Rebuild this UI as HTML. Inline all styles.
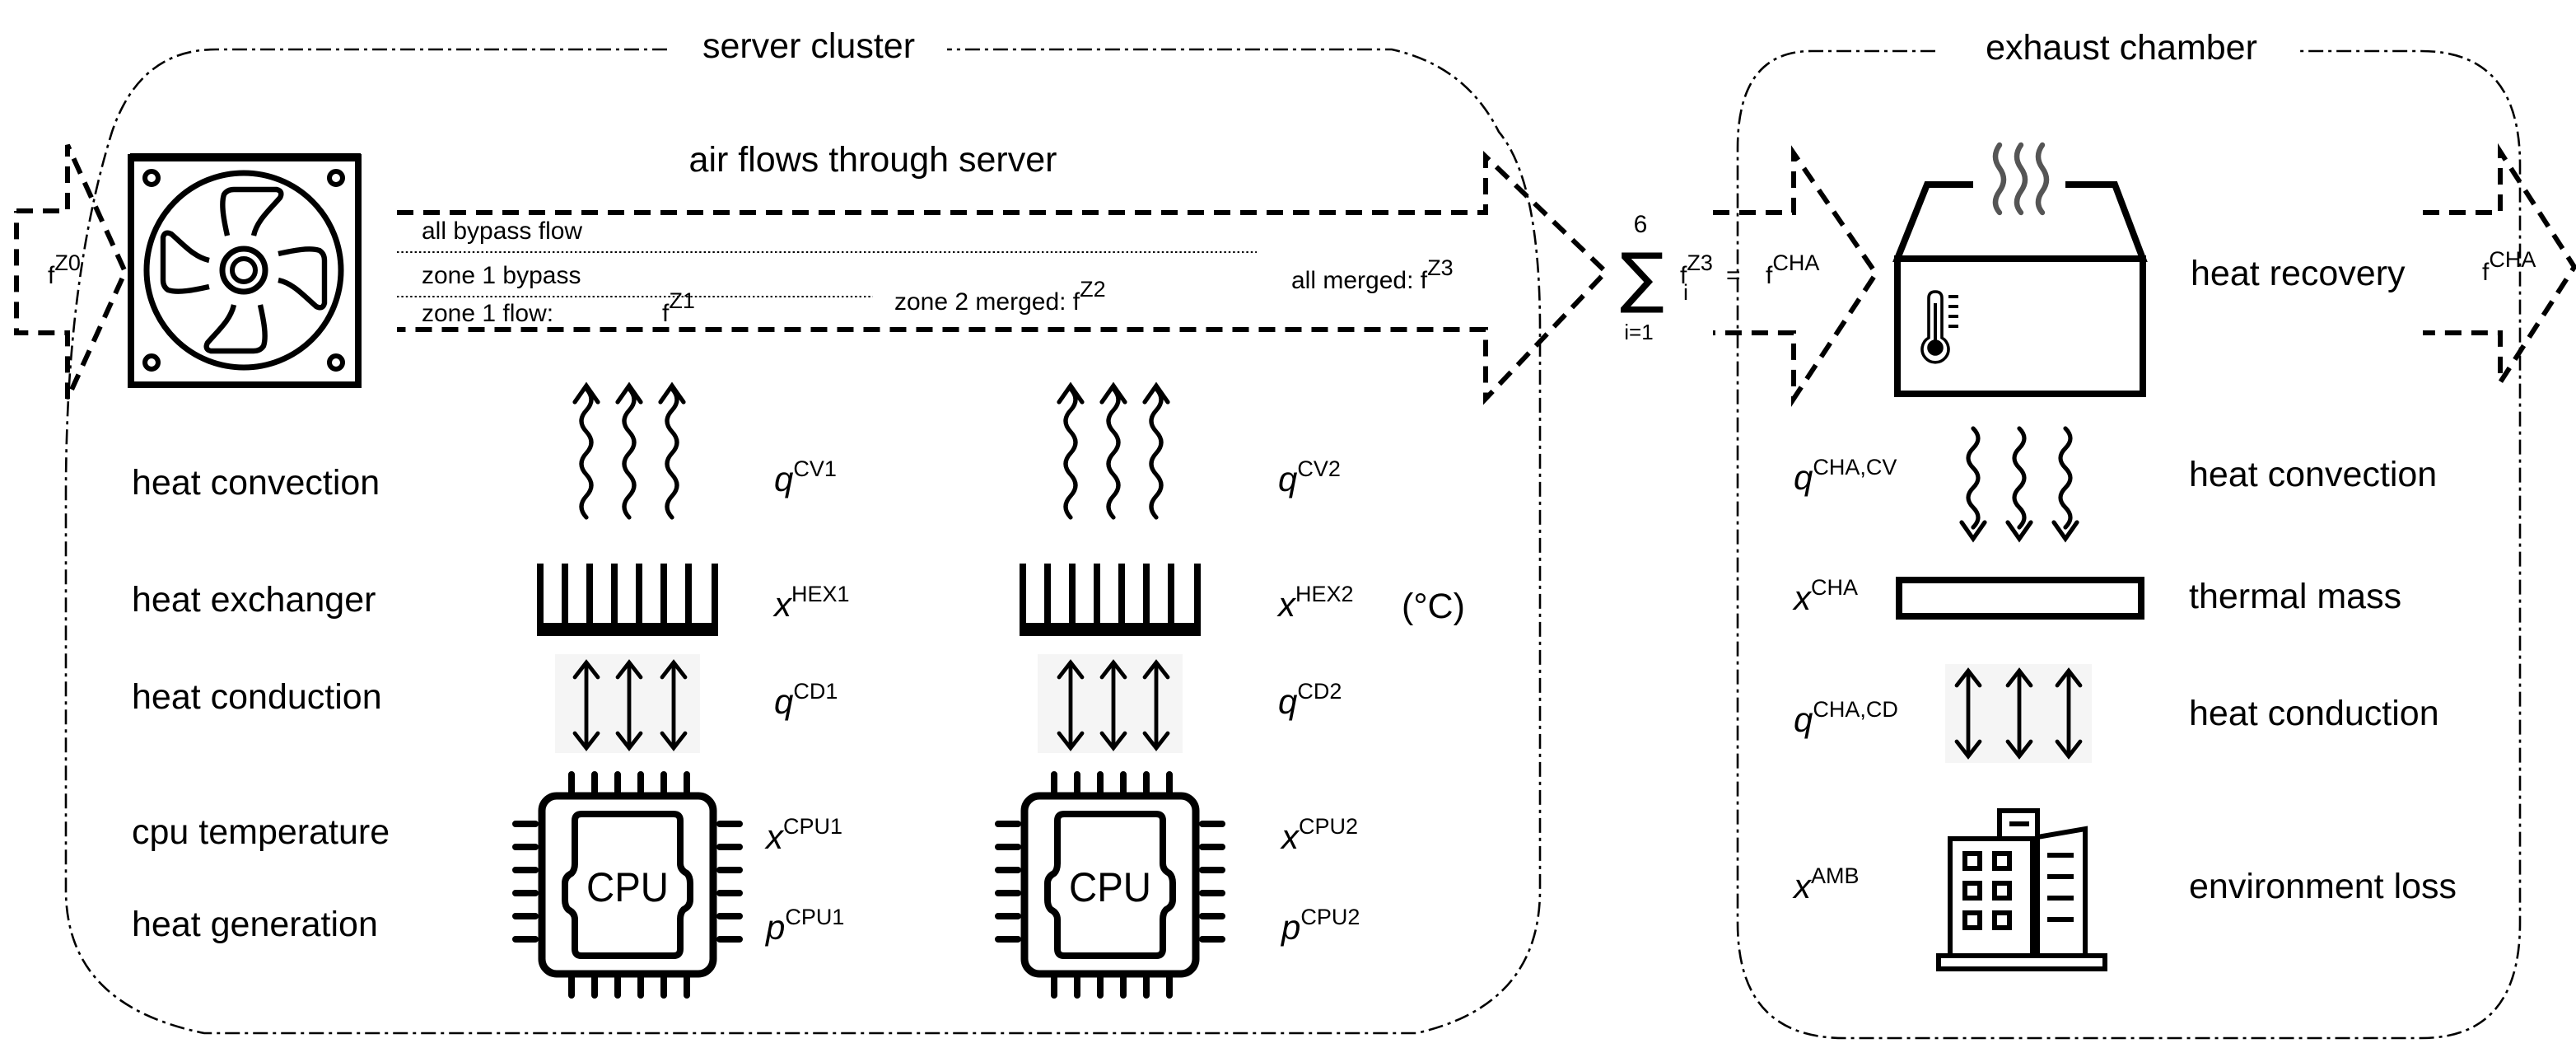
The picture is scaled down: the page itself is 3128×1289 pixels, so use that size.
<!DOCTYPE html>
<html><head><meta charset="utf-8"><style>
html,body{margin:0;padding:0;background:#fff;}
svg{display:block}
text{font-family:"Liberation Sans",Arial,sans-serif;fill:#000}
.L{font-size:21.5px}
.S{font-size:15px}
.v{font-size:21px;font-style:italic}
.sup{font-size:13.5px;font-style:normal}
.dd{fill:none;stroke:#000;stroke-width:1.3;stroke-dasharray:9 3 2 3}
.da{fill:none;stroke:#000;stroke-width:3;stroke-dasharray:10 6}
</style></head><body>
<svg width="3128" height="1289" viewBox="0 0 1564 644.5" xmlns="http://www.w3.org/2000/svg">
<defs>
<g id="wup" fill="none" stroke="#000" stroke-width="2.6" stroke-linecap="round">
<path d="M0,3 q6,6.5 0,13 t0,13 t0,13 t0,13 t0,13 t0,13"/>
<path d="M-7,11 L0,1 L7,11"/>
</g>
<g id="wdn" fill="none" stroke="#000" stroke-width="2.6" stroke-linecap="round">
<path d="M0,0 q6,6 0,12 t0,12 t0,12 t0,12 t0,12"/>
<path d="M-7,57 L0,67 L7,57"/>
</g>
<g id="dbl" fill="none" stroke="#000" stroke-width="2.4" stroke-linecap="round">
<path d="M0,2 V54 M-7,11 L0,2 L7,11 M-7,45 L0,54 L7,45"/>
</g>
<g id="sink" fill="#000">
<rect x="0" y="36" width="110" height="8"/>
<rect x="0" y="0" width="4" height="40"/><rect x="15" y="0" width="4" height="40"/><rect x="30" y="0" width="4" height="40"/><rect x="45" y="0" width="4" height="40"/><rect x="60" y="0" width="4" height="40"/><rect x="75" y="0" width="4" height="40"/><rect x="90" y="0" width="4" height="40"/><rect x="106" y="0" width="4" height="40"/>
</g>
<g id="cpu">
<g stroke="#000" stroke-width="4" stroke-linecap="round">
<path d="M34,0 V12 M48,0 V12 M62,0 V12 M76,0 V12 M90,0 V12 M104,0 V12"/>
<path d="M34,122 V134 M48,122 V134 M62,122 V134 M76,122 V134 M90,122 V134 M104,122 V134"/>
<path d="M0,30 H12 M0,44 H12 M0,58 H12 M0,72 H12 M0,86 H12 M0,100 H12"/>
<path d="M124,30 H136 M124,44 H136 M124,58 H136 M124,72 H136 M124,86 H136 M124,100 H136"/>
</g>
<rect x="16" y="13" width="104" height="108" rx="9" fill="none" stroke="#000" stroke-width="4.5"/>
<path d="M40,24 H96 Q100,24 100,28 V54 Q100,58 104,60 Q106,62 106,66 V76 Q106,80 102,82 Q100,84 100,88 V106 Q100,110 96,110 H40 Q36,110 36,106 V88 Q36,84 32,82 Q30,80 30,76 V66 Q30,62 34,60 Q36,58 36,54 V28 Q36,24 40,24 Z" fill="none" stroke="#000" stroke-width="4"/>
<text x="68" y="77" text-anchor="middle" style="font-size:25px" textLength="50" lengthAdjust="spacingAndGlyphs">CPU</text>
</g>
<path id="blade" d="M-10,-21 C-12,-30 -14,-40 -12,-46 Q-10,-49 -6,-49 L20,-49 Q24,-48 22,-44 C15,-36 8,-30 6,-21" fill="none" stroke="#000" stroke-width="3.2" stroke-linejoin="round"/>
</defs>

<!-- server cluster frame -->
<path class="dd" d="M405,30 H131 Q85,30 68,80 Q40,170 40,300 V540 Q40,610 124,627 H860 Q935,610 935,540 V200 Q935,110 910,80 Q890,40 845,30 H575"/>
<text x="491" y="35" class="L" text-anchor="middle">server cluster</text>

<!-- exhaust chamber frame -->
<path class="dd" d="M1175,31 H1100 Q1055,31 1055,90 V560 Q1055,630 1120,630 H1470 Q1530,630 1530,560 V100 Q1530,31 1470,31 H1395"/>
<text x="1288" y="36" class="L" text-anchor="middle">exhaust chamber</text>

<!-- inlet arrow -->
<path class="da" d="M10,128 H41 V88 L76,165 L41,242 V202 H10 V128"/>
<text x="29" y="172" class="S">f<tspan class="sup" dy="-8">Z0</tspan></text>

<!-- fan -->
<g>
<rect x="79.5" y="95.5" width="138" height="138" fill="none" stroke="#000" stroke-width="4"/>
<rect x="79" y="93" width="140" height="5" fill="#000"/>
<circle cx="148" cy="164" r="59" fill="none" stroke="#000" stroke-width="3.5"/>
<circle cx="148" cy="164" r="13" fill="none" stroke="#000" stroke-width="3.5"/>
<circle cx="148" cy="164" r="7" fill="none" stroke="#000" stroke-width="3"/>
<circle cx="92" cy="108" r="4" fill="none" stroke="#000" stroke-width="3"/>
<circle cx="204" cy="108" r="4" fill="none" stroke="#000" stroke-width="3"/>
<circle cx="92" cy="220" r="4" fill="none" stroke="#000" stroke-width="3"/>
<circle cx="204" cy="220" r="4" fill="none" stroke="#000" stroke-width="3"/>
<use href="#blade" transform="translate(148,164)"/>
<use href="#blade" transform="translate(148,164) rotate(90)"/>
<use href="#blade" transform="translate(148,164) rotate(180)"/>
<use href="#blade" transform="translate(148,164) rotate(270)"/>
</g>

<!-- big server arrow -->
<path class="da" d="M241,129 H902 V95 L975,165 L902,242 V200 H241"/>
<text x="530" y="104" class="L" text-anchor="middle">air flows through server</text>
<text x="256" y="145" class="S">all bypass flow</text>
<line x1="241" y1="153" x2="763" y2="153" stroke="#000" stroke-width="1" stroke-dasharray="1.2 1.5"/>
<text x="256" y="172" class="S">zone 1 bypass</text>
<line x1="241" y1="180" x2="530" y2="180" stroke="#000" stroke-width="1" stroke-dasharray="1.2 1.5"/>
<text x="256" y="195" class="S">zone 1 flow:</text>
<text x="402" y="195" class="S">f<tspan class="sup" dy="-8">Z1</tspan></text>
<text x="543" y="188" class="S">zone 2 merged:  f<tspan class="sup" dy="-8">Z2</tspan></text>
<text x="784" y="175" class="S">all merged:  f<tspan class="sup" dy="-8">Z3</tspan></text>

<!-- sum -->
<text x="996" y="141" class="S" text-anchor="middle">6</text>
<text x="997" y="182" text-anchor="middle" style="font-family:'DejaVu Sans',sans-serif;font-size:40px">∑</text>
<text x="995" y="206" class="S" text-anchor="middle" style="font-size:13px">i=1</text>
<text x="1020" y="172" class="S">f<tspan class="sup" dy="-8">Z3</tspan></text>
<text x="1022" y="182" class="sup">i</text>
<text x="1048" y="172" class="S">=</text>
<text x="1072" y="172" class="S">f<tspan class="sup" dy="-8">CHA</tspan></text>

<!-- exhaust input arrow -->
<path class="da" d="M1040,129 H1089 V93 L1139,166 L1089,242 V202 H1040"/>

<!-- hot box -->
<g fill="none" stroke="#000" stroke-width="4">
<path d="M1198,112 H1170 L1152,157 H1301 L1284,112 H1254"/>
<rect x="1152" y="157" width="149" height="82"/>
</g>
<g fill="none" stroke="#555" stroke-width="3.2" stroke-linecap="round">
<path d="M1214,88 q-5,7 0,14 t0,14 t0,13"/>
<path d="M1227,88 q-5,7 0,14 t0,14 t0,13"/>
<path d="M1240,88 q-5,7 0,14 t0,14 t0,13"/>
</g>
<g fill="none" stroke="#000" stroke-width="1.8">
<path d="M1171,205 V181 q0,-4 4,-4 q4,0 4,4 V205 a8,8 0 1 1 -8,0 Z"/>
<circle cx="1175" cy="211" r="4" fill="#000"/>
<path d="M1175,184 V208" stroke-width="2"/>
<path d="M1183,180 H1189 M1183,186 H1189 M1183,192 H1189 M1183,198 H1189" stroke-width="2"/>
</g>
<text x="1330" y="173" class="L">heat recovery</text>

<!-- output arrow -->
<path class="da" d="M1471,129 H1518 V92 L1563,162 L1518,232 V202 H1471"/>
<text x="1507" y="170" class="S">f<tspan class="sup" dy="-8">CHA</tspan></text>

<!-- right column -->
<use href="#wdn" x="1198" y="260"/>
<use href="#wdn" x="1226" y="260"/>
<use href="#wdn" x="1254" y="260"/>
<text x="1089" y="297" class="v">q<tspan class="sup" dy="-9">CHA,CV</tspan></text>
<text x="1329" y="295" class="L">heat convection</text>
<rect x="1153" y="352" width="147" height="22" fill="none" stroke="#000" stroke-width="4"/>
<text x="1089" y="370" class="v">x<tspan class="sup" dy="-9">CHA</tspan></text>
<text x="1329" y="369" class="L">thermal mass</text>
<rect x="1181" y="403" width="89" height="60" fill="#f5f5f5"/>
<use href="#dbl" x="1195" y="405"/>
<use href="#dbl" x="1226" y="405"/>
<use href="#dbl" x="1256" y="405"/>
<text x="1089" y="444" class="v">q<tspan class="sup" dy="-9">CHA,CD</tspan></text>
<text x="1329" y="440" class="L">heat conduction</text>
<!-- building -->
<g fill="none" stroke="#000" stroke-width="3">
<rect x="1177" y="580" width="101" height="8"/>
<rect x="1184" y="509" width="50" height="71"/>
<rect x="1214" y="492" width="23" height="17"/>
<path d="M1220,500 H1232"/>
<path d="M1237,580 V508 L1266,503 V580"/>
<path d="M1243,519 H1259 M1243,532 H1259 M1243,545 H1259 M1243,558 H1259"/>
<rect x="1193" y="518" width="9" height="9"/><rect x="1211" y="518" width="9" height="9"/>
<rect x="1193" y="536" width="9" height="9"/><rect x="1211" y="536" width="9" height="9"/>
<rect x="1193" y="554" width="9" height="9"/><rect x="1211" y="554" width="9" height="9"/>
</g>
<text x="1089" y="545" class="v">x<tspan class="sup" dy="-9">AMB</tspan></text>
<text x="1329" y="545" class="L">environment loss</text>

<!-- left labels -->
<text x="80" y="300" class="L">heat convection</text>
<text x="80" y="371" class="L">heat exchanger</text>
<text x="80" y="430" class="L">heat conduction</text>
<text x="80" y="512" class="L">cpu temperature</text>
<text x="80" y="568" class="L">heat generation</text>

<!-- column 1 -->
<use href="#wup" x="356" y="233"/>
<use href="#wup" x="382" y="233"/>
<use href="#wup" x="408" y="233"/>
<text x="470" y="298" class="v">q<tspan class="sup" dy="-9">CV1</tspan></text>
<use href="#sink" x="326" y="342"/>
<text x="470" y="374" class="v">x<tspan class="sup" dy="-9">HEX1</tspan></text>
<rect x="337" y="397" width="88" height="60" fill="#f5f5f5"/>
<use href="#dbl" x="356" y="400"/>
<use href="#dbl" x="382" y="400"/>
<use href="#dbl" x="409" y="400"/>
<text x="470" y="433" class="v">q<tspan class="sup" dy="-9">CD1</tspan></text>
<use href="#cpu" x="313" y="470"/>
<text x="465" y="515" class="v">x<tspan class="sup" dy="-9">CPU1</tspan></text>
<text x="465" y="570" class="v">p<tspan class="sup" dy="-9">CPU1</tspan></text>

<!-- column 2 -->
<use href="#wup" x="650" y="233"/>
<use href="#wup" x="676" y="233"/>
<use href="#wup" x="702" y="233"/>
<text x="776" y="298" class="v">q<tspan class="sup" dy="-9">CV2</tspan></text>
<use href="#sink" x="619" y="342"/>
<text x="776" y="374" class="v">x<tspan class="sup" dy="-9">HEX2</tspan></text>
<text x="851" y="375" class="L">(°C)</text>
<rect x="630" y="397" width="88" height="60" fill="#f5f5f5"/>
<use href="#dbl" x="650" y="400"/>
<use href="#dbl" x="676" y="400"/>
<use href="#dbl" x="702" y="400"/>
<text x="776" y="433" class="v">q<tspan class="sup" dy="-9">CD2</tspan></text>
<use href="#cpu" x="606" y="470"/>
<text x="778" y="515" class="v">x<tspan class="sup" dy="-9">CPU2</tspan></text>
<text x="778" y="570" class="v">p<tspan class="sup" dy="-9">CPU2</tspan></text>
</svg>
</body></html>
